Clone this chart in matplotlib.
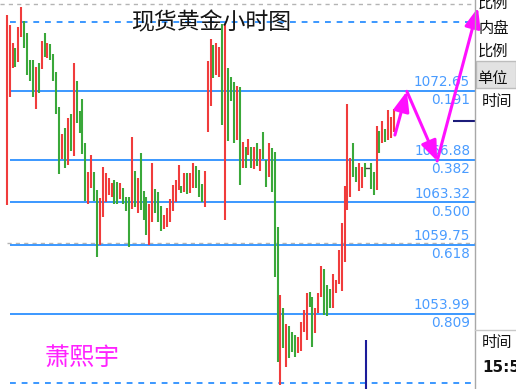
import numpy as np
import matplotlib
matplotlib.use('Agg')
import matplotlib.pyplot as plt
from matplotlib.patches import Rectangle
from matplotlib.transforms import blended_transform_factory

plt.rcParams['font.family'] = ['Noto Sans CJK SC', 'DejaVu Sans']

# hourly bars: high / low, direction r=up (red), g=down (green), x=doji
highs = [1078.98, 1078.15, 1076.61, 1076.20, 1078.01, 1079.63, 1078.51, 1077.45, 1075.22, 1075.22,
         1074.66, 1074.94, 1076.81, 1077.45, 1076.61, 1076.56, 1075.72, 1074.24, 1071.26, 1069.02,
         1069.55, 1070.34, 1070.70,
         1074.94, 1073.46, 1070.95, 1071.93, 1068.30, 1065.87, 1067.27, 1065.87, 1064.34, 1063.70,
         1066.23, 1065.73, 1065.37, 1064.89, 1065.17, 1064.98, 1064.95, 1064.53, 1063.78, 1063.78,
         1068.75, 1065.93, 1065.31,
         1067.41, 1064.28, 1063.78, 1063.17, 1066.57, 1064.39, 1064.20, 1063.00, 1062.25, 1062.80,
         1063.61, 1064.76, 1065.17, 1066.40, 1064.67, 1065.73, 1065.79, 1065.79, 1066.57, 1066.37,
         1066.01, 1064.81,
         1065.93, 1075.13, 1076.98, 1076.47, 1076.61, 1076.33, 1078.23, 1078.23, 1074.52, 1073.82,
         1073.35, 1073.04, 1072.93, 1068.33, 1067.96, 1068.61, 1067.96, 1067.91, 1068.24, 1067.77,
         1069.16, 1066.85, 1068.24,
         1067.88, 1067.52, 1061.27, 1055.52, 1054.43, 1053.12, 1052.95, 1052.42, 1052.20, 1052.06,
         1053.32, 1054.29, 1055.69, 1055.83, 1055.41, 1054.43, 1055.74, 1058.00, 1057.70, 1056.36,
         1056.02, 1057.28, 1056.80,
         1059.31, 1061.60, 1064.70, 1071.54, 1067.04, 1068.24, 1066.29, 1066.57, 1066.23, 1066.62,
         1066.15, 1066.57, 1065.87, 1069.72, 1069.28, 1070.11, 1069.47, 1071.03, 1070.42, 1071.15]
lows = [1063.08, 1072.15, 1074.52, 1074.66, 1075.08, 1077.17, 1076.20, 1073.96, 1073.49, 1072.09,
        1071.09, 1072.48, 1074.44, 1075.50, 1075.36, 1075.22, 1073.49, 1070.70, 1065.68, 1066.90,
        1066.15, 1066.43, 1067.63,
        1067.18, 1069.92, 1069.14, 1067.35, 1063.44, 1063.17, 1064.48, 1063.44, 1058.70, 1059.73,
        1062.05, 1063.30, 1063.92, 1063.78, 1063.17, 1063.17, 1063.56, 1063.17, 1062.61, 1059.54,
        1062.72, 1062.89, 1062.38,
        1062.66, 1061.83, 1060.57, 1059.73, 1061.69, 1062.44, 1061.69, 1060.93, 1061.05, 1061.27,
        1061.69, 1062.61, 1063.36, 1064.34, 1064.06, 1064.20, 1064.00, 1064.11, 1064.48, 1064.48,
        1063.78, 1063.36,
        1062.94, 1069.22, 1071.37, 1073.68, 1073.96, 1073.77, 1069.78, 1061.83, 1068.47, 1071.81,
        1068.24, 1068.52, 1064.73, 1066.21, 1066.15, 1067.27, 1066.15, 1066.07, 1066.35, 1065.96,
        1066.90, 1064.62, 1065.45,
        1064.14, 1057.03, 1049.97, 1048.02, 1051.08, 1049.55, 1050.25, 1050.81, 1050.33, 1050.67,
        1050.89, 1052.48, 1051.78, 1054.57, 1051.22, 1052.34, 1054.01, 1055.41, 1053.87, 1053.79,
        1054.43, 1054.43, 1055.69,
        1056.47, 1055.88, 1058.28, 1062.66, 1063.72, 1065.45, 1064.98, 1064.25, 1064.48, 1065.45,
        1066.15, 1064.39, 1063.92, 1064.34, 1067.41, 1068.24, 1068.38, 1068.52, 1068.66, 1069.16]
dirs = ("rrrgrrggggrgrgrggggrgrg" "rggggrrggrrrrrggrgggrgr" "gggrrgggrrrrrrgrgrrggg"
        "rrrgrrgrgggrgrgrgrgrggr" "gggrgrgggrrrrggrrrgggrr" "rrrrrggrrgxggrgrgrrr")

# fibonacci retracement
fib_ratios = [0.0, 0.191, 0.382, 0.500, 0.618, 0.809, 1.0]
fib_prices = [1078.42, 1072.65, 1066.88, 1063.32, 1059.75, 1053.99, 1048.23]

# other horizontal markers
grid_top = 1079.90
grid_mid = 1059.93
cur_price = 1070.11

# projected path (magenta arrows)
path_x = [133.3, 137.4, 147.8, 161.8]
path_y = [1068.94, 1072.60, 1066.77, 1079.60]

W, H = 516, 389
fig = plt.figure(figsize=(W / 100, H / 100), dpi=100)
fig.patch.set_facecolor('white')
ax = fig.add_axes([0, 0, 475 / W, 1])
ax.axis('off')
ax.set_xlim(-2.3, 160.8)
ax.set_ylim(1047.69, 1080.24)

fib_col = '#3b98ff'
ax.hlines(grid_top, -2.3, 160.8, colors='#b4b4b4', lw=1, linestyles=(0, (3, 3)))
ax.hlines(grid_mid, 0.1, 160.8, colors='#b4b4b4', lw=1, linestyles=(0, (3, 3)))

for r, p in zip(fib_ratios, fib_prices):
    if r in (0.0, 1.0):
        ax.hlines(p, 1.1, 160.8, colors=fib_col, lw=1.4, linestyles=(0, (3, 3)))
    else:
        ax.hlines(p, 1.1, 160.8, colors=fib_col, lw=1.4)

x = np.arange(len(highs))
cmap = {'r': '#f03c3c', 'g': '#3aa83a'}
bar_idx = [i for i, d in enumerate(dirs) if d != 'x']
ax.vlines(x[bar_idx], [lows[i] for i in bar_idx], [highs[i] for i in bar_idx],
          colors=[cmap[dirs[i]] for i in bar_idx], lw=1.5)
for i, d in enumerate(dirs):
    if d == 'x':
        ax.plot([x[i] - 0.5, x[i] + 0.5], [highs[i], highs[i]], color='#444444', lw=1)

# current price marker and separator
ax.hlines(cur_price, 153.3, 160.8, colors='#1c1c7a', lw=1.5)
ax.vlines(123.4, 1047.69, 1051.79, colors='#1c1c9a', lw=1.5)

trans = blended_transform_factory(ax.transAxes, ax.transData)
lab_col = '#4a9cff'
for r, p in zip(fib_ratios, fib_prices):
    if r in (0.0, 1.0):
        continue
    ax.annotate(f'{p:.2f}', xy=(0.99, p), xycoords=trans, xytext=(0, 6.2),
                textcoords='offset points', ha='right', va='center',
                color=lab_col, fontsize=9.8, family='DejaVu Sans')
    ax.annotate(f'{r:.3f}', xy=(0.99, p), xycoords=trans, xytext=(0, -6.8),
                textcoords='offset points', ha='right', va='center',
                color=lab_col, fontsize=9.8, family='DejaVu Sans')

for k in range(len(path_x) - 1):
    ax.annotate('', xy=(path_x[k + 1], path_y[k + 1]), xytext=(path_x[k], path_y[k]),
                arrowprops=dict(arrowstyle='-|>,head_length=0.8,head_width=0.32',
                                color='#ff10ff', lw=2.2,
                                mutation_scale=15, shrinkA=0, shrinkB=0),
                annotation_clip=False)

def fx(px):
    return px / W

def fy(py):
    return 1 - py / H

fig.text(fx(211), fy(23), '现货黄金小时图', ha='center', va='center',
         fontsize=16.5, color='#151515')
fig.text(fx(82), fy(358), '萧熙宇', ha='center', va='center',
         fontsize=18, color='#ff22ff', fontweight='light')

# right info panel
fig.add_artist(plt.Line2D([fx(475), fx(475)], [0, 1], color='#a8a8a8', lw=1))
fig.add_artist(plt.Line2D([fx(475), 1], [fy(330), fy(330)], color='#c8c8c8', lw=1))
fig.add_artist(Rectangle((fx(476), fy(88)), fx(40), 27 / H, transform=fig.transFigure,
                         facecolor='#e2e2e2', edgecolor='#bdbdbd', lw=1))
panel = [('比例', 478, 3), ('内盘', 478, 28), ('比例', 478, 51), ('单位', 477, 78), ('时间', 482, 102)]
for t, px, py in panel:
    fig.text(fx(px), fy(py), t, ha='left', va='center', fontsize=11, color='#111111')
fig.text(fx(482), fy(343), '时间', ha='left', va='center', fontsize=11, color='#111111')
fig.text(fx(482), fy(367), '15:55', ha='left', va='center', fontsize=11,
         fontweight='bold', color='#111111', family='DejaVu Sans')

fig.savefig('out.png', dpi=100)
